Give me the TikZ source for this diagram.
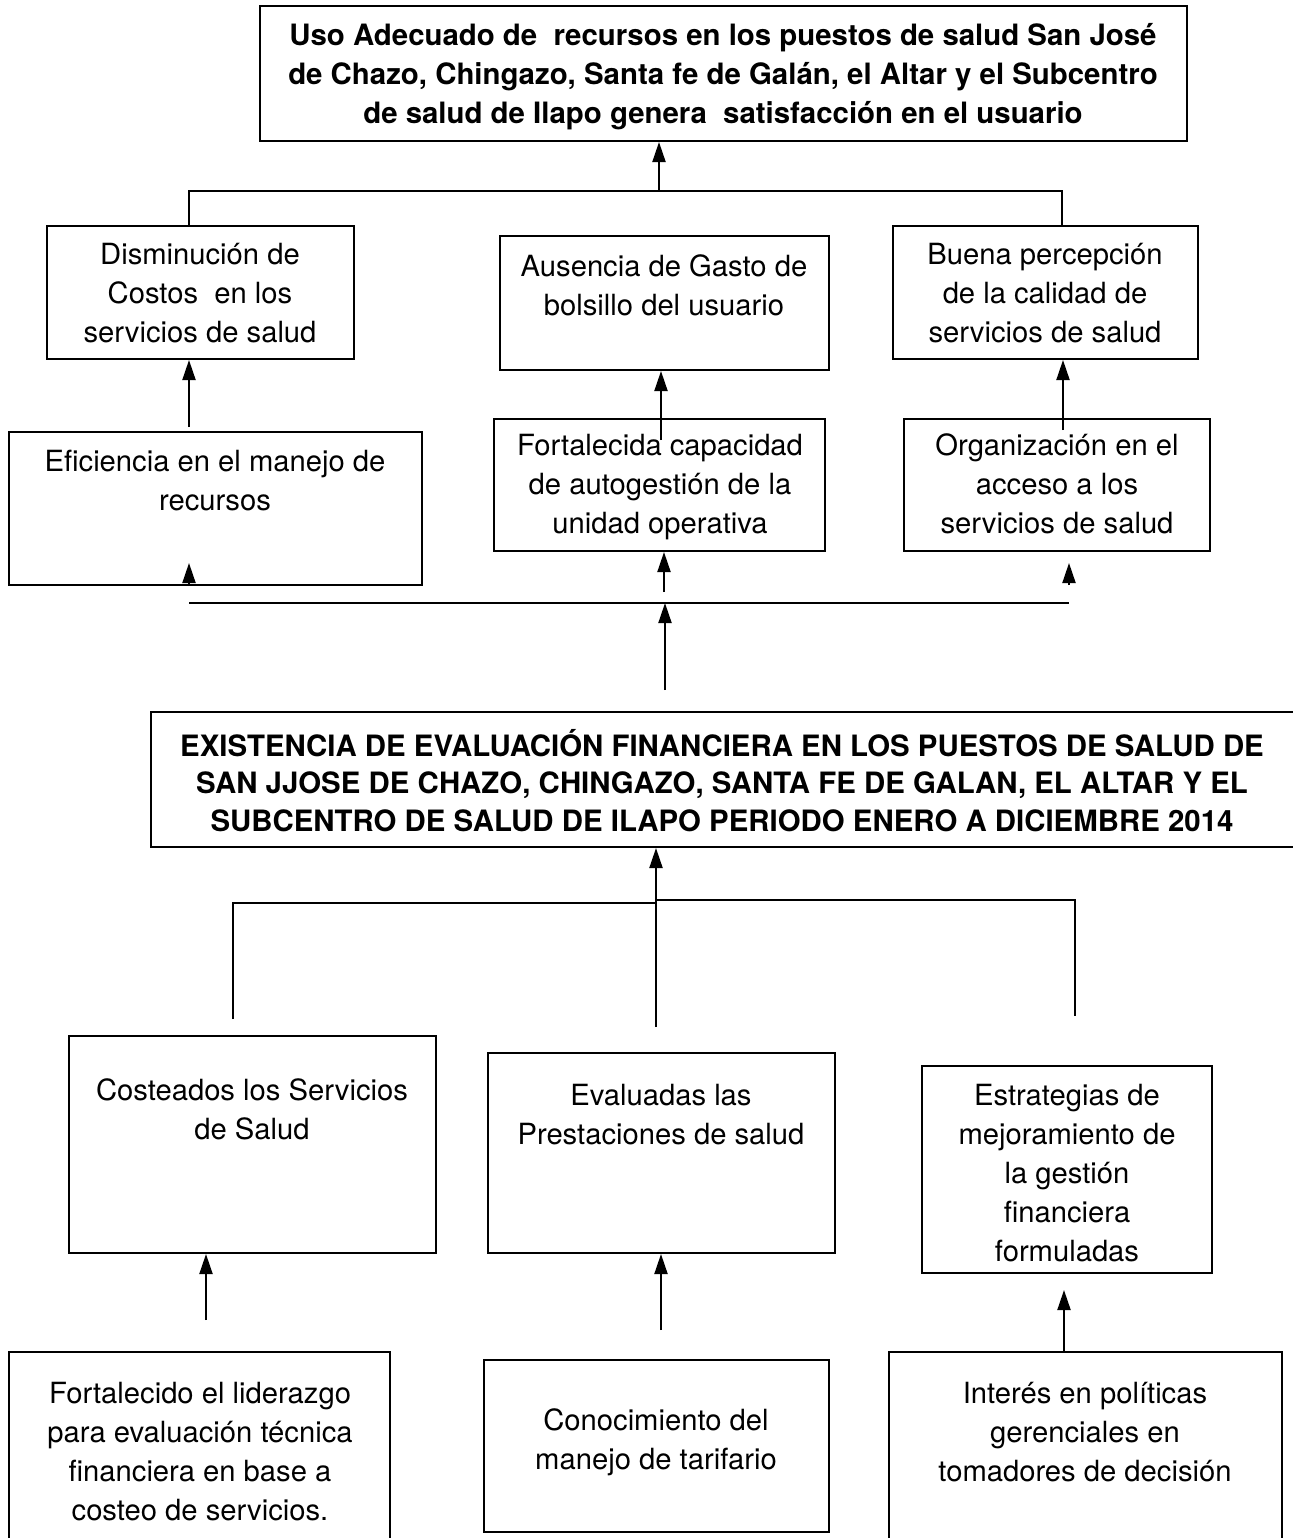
\documentclass[tikz,border=0pt]{standalone}
\usepackage{fontspec}
\setmainfont{TeX Gyre Heros}
\usetikzlibrary{arrows.meta,fit}
\begin{document}
\begin{tikzpicture}[x=0.5pt,y=-0.5pt,
  box/.style={draw,line width=1pt,inner sep=0pt},
  txt/.style={anchor=north,align=center,inner sep=0pt,font=\fontsize{14.6}{19.5}\selectfont},
  btxt/.style={anchor=north,align=center,inner sep=0pt,font=\fontsize{14.7}{19.5}\selectfont\bfseries},
  ctxt/.style={anchor=north,align=center,inner sep=0pt,font=\fontsize{14.7}{18.75}\selectfont\bfseries},
  ln/.style={line width=1pt},
  arr/.style={line width=1pt,-{Triangle[length=10pt,width=6.5pt]}}]
\useasboundingbox (0,0) rectangle (1292,1538);

% boxes
\node[box,fit={(260,6)(1187,141)}] (top) {};
\node[box,fit={(47,226)(354,359)}] (a1) {};
\node[box,fit={(500,236)(829,370)}] (a2) {};
\node[box,fit={(893,226)(1198,359)}] (a3) {};
\node[box,fit={(9,432)(422,585)}] (b1) {};
\node[box,fit={(494,419)(825,551)}] (b2) {};
\node[box,fit={(904,419)(1210,551)}] (b3) {};
\node[box,fit={(151,712)(1310,847)}] (mid) {};
\node[box,fit={(69,1036)(436,1253)}] (c1) {};
\node[box,fit={(488,1053)(835,1253)}] (c2) {};
\node[box,fit={(922,1066)(1212,1273)}] (c3) {};
\node[box,fit={(9,1352)(390,1550)}] (d1) {};
\node[box,fit={(484,1360)(829,1532)}] (d2) {};
\node[box,fit={(889,1352)(1282,1550)}] (d3) {};

% texts
\node[btxt] (ttop) at (723,18) {\strut Uso Adecuado de\ \ recursos en los puestos de salud San José\\de Chazo, Chingazo, Santa fe de Galán, el Altar y el Subcentro\\de salud de Ilapo genera\ \ satisfacción en el usuario};
\node[txt] (ta1) at (200,237) {\strut Disminución de\\Costos\ \ en los\\servicios de salud};
\node[txt] (ta2) at (664,249) {\strut Ausencia de Gasto de\\bolsillo del usuario};
\node[txt] (ta3) at (1045,237) {\strut Buena percepción\\de la calidad de\\servicios de salud};
\node[txt] (tb1) at (215,444) {\strut Eficiencia en el manejo de\\recursos};
\node[txt] (tb2) at (660,428) {\strut Fortalecida capacidad\\de autogestión de la\\unidad operativa};
\node[txt] (tb3) at (1057,428) {\strut Organización en el\\acceso a los\\servicios de salud};
\node[ctxt] (tmid) at (722,729) {\strut EXISTENCIA DE EVALUACIÓN FINANCIERA EN LOS PUESTOS DE SALUD DE\\SAN JJOSE DE CHAZO, CHINGAZO, SANTA FE DE GALAN, EL ALTAR Y EL\\SUBCENTRO DE SALUD DE ILAPO PERIODO ENERO A DICIEMBRE 2014};
\node[txt] (tc1) at (252,1073) {\strut Costeados los Servicios\\de Salud};
\node[txt] (tc2) at (661,1078) {\strut Evaluadas las\\Prestaciones de salud};
\node[txt] (tc3) at (1067,1078) {\strut Estrategias de\\mejoramiento de\\la gestión\\financiera\\formuladas};
\node[txt] (td1) at (200,1376) {\strut Fortalecido el liderazgo\\para evaluación técnica\\financiera en base a\\costeo de servicios.};
\node[txt] (td2) at (656,1403) {\strut Conocimiento del\\manejo de tarifario};
\node[txt] (td3) at (1085,1376) {\strut Interés en políticas\\gerenciales en\\tomadores de decisión};

% coordinates
\coordinate (j1) at (659,191);
\coordinate (l1) at (189,191);
\coordinate (r1) at (1062,191);
\coordinate (ea1) at (189,427);
\coordinate (ea2) at (661,440);
\coordinate (ea3) at (1063,430);
\coordinate (tb1x) at (189,563);
\coordinate (eb2) at (664,592);
\coordinate (sb3) at (1069,585);
\coordinate (tb3x) at (1069,563);
\coordinate (hl) at (189,603);
\coordinate (hr) at (1069,603);
\coordinate (hm) at (665,603);
\coordinate (em) at (665,690);
\coordinate (j2) at (656,1027);
\coordinate (ll2) at (233,903);
\coordinate (lb2) at (233,1019);
\coordinate (jm2) at (656,903);
\coordinate (jr2) at (656,900);
\coordinate (rr2) at (1075,900);
\coordinate (rb2) at (1075,1016);
\coordinate (ec1) at (206,1320);
\coordinate (ec2) at (661,1330);
\coordinate (tc3x) at (1064,1290);

% connectors
\draw[ln] (l1 |- a1.north) -- (l1) -- (r1) -- (r1 |- a3.north);
\draw[arr] (j1) -- (j1 |- top.south);
\draw[arr] (ea1) -- (ea1 |- a1.south);
\draw[arr] (ea2) -- (ea2 |- a2.south);
\draw[arr] (ea3) -- (ea3 |- a3.south);
\draw[arr] (tb1x |- b1.south) -- (tb1x);
\draw[arr] (eb2) -- (eb2 |- b2.south);
\draw[arr] (sb3) -- (tb3x);
\draw[ln] (hl) -- (hr);
\draw[arr] (em) -- (hm);
\draw[arr] (j2) -- (j2 |- mid.south);
\draw[ln] (lb2) -- (ll2) -- (jm2);
\draw[ln] (jr2) -- (rr2) -- (rb2);
\draw[arr] (ec1) -- (ec1 |- c1.south);
\draw[arr] (ec2) -- (ec2 |- c2.south);
\draw[arr] (tc3x |- d3.north) -- (tc3x);
\end{tikzpicture}
\end{document}
